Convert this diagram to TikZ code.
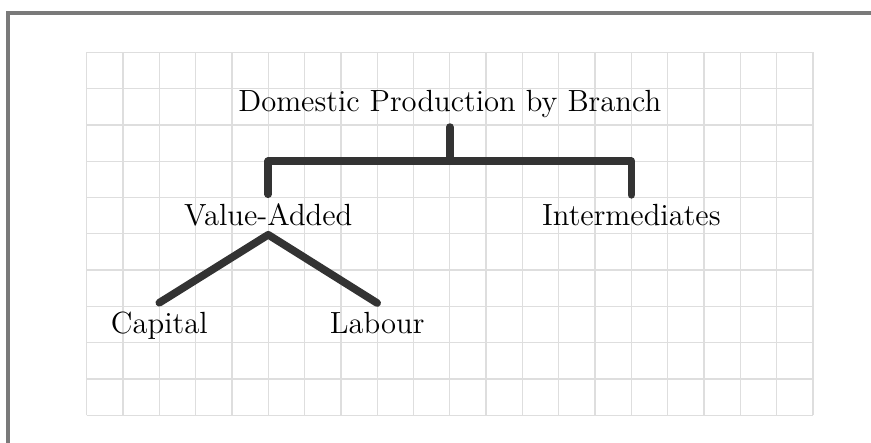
\documentclass[tikz,border=0pt]{standalone}
\begin{document}
\begin{tikzpicture}[
  gridline/.style={black!13, line width=0.5pt},
  frameline/.style={black!52, line width=1.4pt},
  tree/.style={draw=black!80, line width=3pt, line cap=round, line join=round},
  lbl/.style={font=\fontsize{12}{14.4}\selectfont, anchor=base, inner sep=0.333em}
]
\useasboundingbox (-1.194,-0.368) rectangle (10.80,5.72);
\draw[frameline] (-1.084,-1) rectangle (11.5,5.541);
\draw[gridline, step=0.5] (0,0) grid (10,5);
\node[lbl] (root) at (5,4.18) {Domestic Production by Branch};
\node[lbl] (va) at (2.5,2.62) {Value-Added};
\node[lbl] (int) at (7.5,2.62) {Intermediates};
\node[lbl] (cap) at (1,1.13) {Capital};
\node[lbl] (lab) at (4,1.13) {Labour};
\coordinate (bar) at (5,3.5);
\draw[tree] (root.south) -- (bar);
\draw[tree] (va.north) |- (bar) -| (int.north);
\draw[tree] (cap.north) -- (va.south) -- (lab.north);
\end{tikzpicture}
\end{document}
